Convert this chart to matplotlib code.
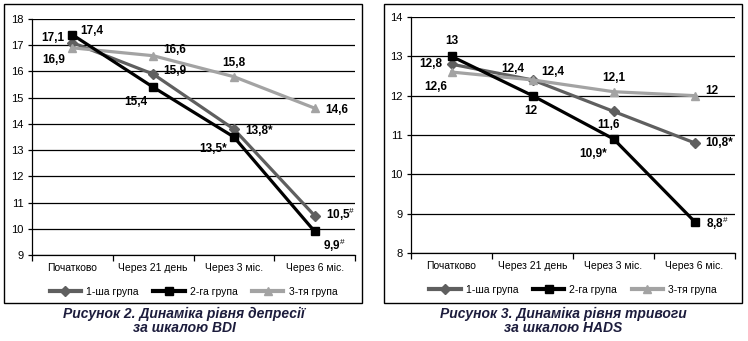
import matplotlib.pyplot as plt
from matplotlib.patches import Rectangle
from matplotlib.lines import Line2D

plt.rcParams['font.family'] = ['Liberation Sans', 'DejaVu Sans']
plt.rcParams['mathtext.fontset'] = 'custom'
plt.rcParams['mathtext.rm'] = 'Liberation Sans'
plt.rcParams['mathtext.bf'] = 'Liberation Sans:bold'

categories = ['Початково', 'Через 21 день', 'Через 3 міс.', 'Через 6 міс.']
group_names = ['1-ша група', '2-га група', '3-тя група']

# BDI depression score
bdi_g1 = [17.1, 15.9, 13.8, 10.5]
bdi_g2 = [17.4, 15.4, 13.5, 9.9]
bdi_g3 = [16.9, 16.6, 15.8, 14.6]
bdi_marks_g1 = ['', '', '*', '#']
bdi_marks_g2 = ['', '', '*', '#']
bdi_marks_g3 = ['', '', '', '']

# HADS anxiety score
hads_g1 = [12.8, 12.4, 11.6, 10.8]
hads_g2 = [13.0, 12.0, 10.9, 8.8]
hads_g3 = [12.6, 12.4, 12.1, 12.0]
hads_marks_g1 = ['', '', '', '*']
hads_marks_g2 = ['', '', '*', '#']
hads_marks_g3 = ['', '', '', '']

colors = ['#5f5f5f', '#000000', '#a3a3a3']
markers = ['D', 's', '^']
msizes = [5, 5.5, 6]


def fmt(v, mark):
    s = ('%g' % v).replace('.', ',')
    if mark == '#':
        return s + r'$^{\#}$'
    return s + mark


def draw_panel(ax, series, marks, offsets, ylim):
    x = range(len(categories))
    for i, vals in enumerate(series):
        ax.plot(x, vals, color=colors[i], lw=2.3, marker=markers[i],
                ms=msizes[i], zorder=3 + (1 if i == 1 else 0))
        for j, v in enumerate(vals):
            dx, dy, ha = offsets[i][j]
            ax.annotate(fmt(v, marks[i][j]), (j, v), xytext=(dx, dy),
                        textcoords='offset points', ha=ha, va='center',
                        fontsize=8.5, fontweight='bold', zorder=6)
    ax.set_xlim(-0.5, 3.5)
    ax.set_ylim(*ylim)
    ax.set_yticks(range(ylim[0], ylim[1] + 1))
    ax.yaxis.grid(True, color='black', lw=0.9)
    ax.set_axisbelow(True)
    ax.set_xticks(range(len(categories)))
    ax.set_xticklabels(categories, fontsize=7.5)
    ax.set_xticks([-0.5, 0.5, 1.5, 2.5, 3.5], minor=True)
    ax.tick_params(axis='x', which='major', length=0, pad=6)
    ax.tick_params(axis='x', which='minor', length=4, width=0.9)
    ax.tick_params(axis='y', length=3, width=0.9, labelsize=8, pad=3)
    for side in ['top', 'right']:
        ax.spines[side].set_visible(False)
    ax.spines['left'].set_linewidth(0.9)
    ax.spines['bottom'].set_linewidth(0.9)
    handles = [Line2D([], [], color=colors[i], lw=3.0, marker=markers[i],
                      ms=msizes[i]) for i in range(3)]
    ax.legend(handles, group_names, loc='upper center', ncol=3,
              bbox_to_anchor=(0.5, -0.095), frameon=False, fontsize=7.5,
              handlelength=3.0, columnspacing=1.4, handletextpad=0.5)


fig = plt.figure(figsize=(7.48, 3.41), dpi=100)

ax1 = fig.add_axes([0.0428, 0.2522, 0.4318, 0.6921])
bdi_offsets = [
    [(-6, 3, 'right'), (7, 2, 'left'), (8, -1, 'left'), (8, 1, 'left')],
    [(6, 3, 'left'), (-4, -11, 'right'), (-5, -9, 'right'), (6, -10, 'left')],
    [(-5, -9, 'right'), (7, 4, 'left'), (0, 10, 'center'), (8, -1, 'left')],
]
draw_panel(ax1, [bdi_g1, bdi_g2, bdi_g3],
           [bdi_marks_g1, bdi_marks_g2, bdi_marks_g3], bdi_offsets, (9, 18))

ax2 = fig.add_axes([0.5495, 0.2581, 0.4332, 0.6921])
hads_offsets = [
    [(-7, 0, 'right'), (6, 6, 'left'), (-4, -10, 'center'), (8, 0, 'left')],
    [(0, 11, 'center'), (-1, -11, 'center'), (-5, -11, 'right'), (8, -1, 'left')],
    [(-3, -11, 'right'), (-6, 8, 'right'), (0, 10, 'center'), (8, 3, 'left')],
]
draw_panel(ax2, [hads_g1, hads_g2, hads_g3],
           [hads_marks_g1, hads_marks_g2, hads_marks_g3], hads_offsets, (8, 14))

# frames around both charts
for x0, x1 in [(4, 362), (384, 742)]:
    fig.add_artist(Rectangle((x0 / 748, 1 - 303 / 341), (x1 - x0) / 748,
                             299 / 341, transform=fig.transFigure,
                             fill=False, ec='black', lw=1.0))

cap_color = '#1c1c3c'
fig.text(184 / 748, 1 - 321 / 341, 'Рисунок 2. Динаміка рівня депресії\nза шкалою BDI',
         ha='center', va='center', fontsize=10, fontweight='bold', style='italic',
         color=cap_color, linespacing=0.95)
fig.text(563 / 748, 1 - 321 / 341, 'Рисунок 3. Динаміка рівня тривоги\nза шкалою HADS',
         ha='center', va='center', fontsize=10, fontweight='bold', style='italic',
         color=cap_color, linespacing=0.95)

fig.savefig('out.png', dpi=100)
